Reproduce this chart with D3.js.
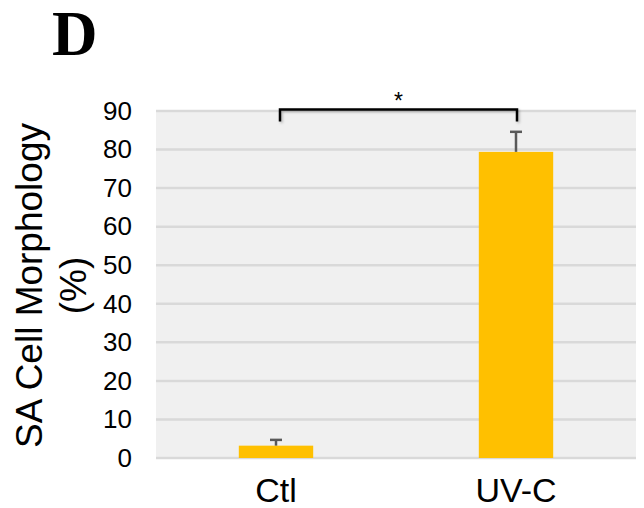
<!DOCTYPE html>
<html>
<head>
<meta charset="utf-8">
<script src="https://cdn.jsdelivr.net/npm/d3@7"></script>
<style>
  html, body { margin: 0; padding: 0; background: #fff; }
  svg { display: block; }
</style>
</head>
<body>
<script>
// Data
const categories = ["Ctl", "UV-C"];
const values = [3.2, 79.4];
const errors = [1.5, 5.2];
const yTicks = [0, 10, 20, 30, 40, 50, 60, 70, 80, 90];
const panelLabel = "D";
const yTitleLines = ["SA Cell Morphology", "(%)"];
const significance = "*";

const W = 644, H = 508;
const plot = { left: 156, right: 636, top: 111, bottom: 458 };

const svg = d3.select("body").append("svg")
  .attr("width", W).attr("height", H);

const defs = svg.append("defs");
const shadow = defs.append("filter").attr("id", "bracketShadow")
  .attr("x", "-10%").attr("y", "-50%").attr("width", "120%").attr("height", "200%");
shadow.append("feDropShadow")
  .attr("dx", 1.5).attr("dy", 1.5).attr("stdDeviation", 1.2)
  .attr("flood-color", "#000").attr("flood-opacity", 0.25);

const x = d3.scaleBand()
  .domain(categories)
  .range([plot.left, plot.right])
  .paddingInner(0.69)
  .paddingOuter(0.345);

const y = d3.scaleLinear()
  .domain([0, 90])
  .range([plot.bottom, plot.top]);

// Plot background
svg.append("rect")
  .attr("x", plot.left).attr("y", y(90))
  .attr("width", plot.right - plot.left)
  .attr("height", y(0) - y(90))
  .attr("fill", "#f0f0f0");

// Gridlines
svg.append("g")
  .selectAll("line")
  .data(yTicks)
  .join("line")
  .attr("x1", plot.left).attr("x2", plot.right)
  .attr("y1", d => y(d)).attr("y2", d => y(d))
  .attr("stroke", "#d9d9d9")
  .attr("stroke-width", 2.5);

// Y axis tick labels
const yAxis = d3.axisLeft(y).tickValues(yTicks).tickSize(0).tickPadding(24);
const gy = svg.append("g")
  .attr("transform", `translate(${plot.left},0)`)
  .call(yAxis);
gy.select(".domain").remove();
gy.selectAll("text")
  .attr("font-family", "Liberation Sans, Arial, sans-serif")
  .attr("font-size", 26)
  .attr("fill", "#000");

// X axis labels
const xAxis = d3.axisBottom(x).tickSize(0).tickPadding(20);
const gx = svg.append("g")
  .attr("transform", `translate(0,${plot.bottom})`)
  .call(xAxis);
gx.select(".domain").remove();
gx.selectAll("text")
  .attr("font-family", "Liberation Sans, Arial, sans-serif")
  .attr("font-size", 34)
  .attr("fill", "#000");

// Bars
svg.append("g")
  .selectAll("rect")
  .data(categories)
  .join("rect")
  .attr("x", d => x(d))
  .attr("y", (d, i) => y(values[i]))
  .attr("width", x.bandwidth())
  .attr("height", (d, i) => y(0) - y(values[i]))
  .attr("fill", "#ffc000");

// Error bars (upper only)
const eg = svg.append("g")
  .attr("stroke", "#595959")
  .attr("stroke-width", 2.5);
categories.forEach((c, i) => {
  const cx = x(c) + x.bandwidth() / 2;
  eg.append("line")
    .attr("x1", cx).attr("x2", cx)
    .attr("y1", y(values[i])).attr("y2", y(values[i] + errors[i]));
  eg.append("line")
    .attr("x1", cx - 6).attr("x2", cx + 6)
    .attr("y1", y(values[i] + errors[i])).attr("y2", y(values[i] + errors[i]));
});

// Significance bracket
const bx1 = x(categories[0]) + x.bandwidth() / 2 + 4;
const bx2 = x(categories[1]) + x.bandwidth() / 2 + 1;
const bTop = y(90) - 1.5;
const bEnd = y(90) + 10.5;
svg.append("path")
  .attr("d", `M${bx1},${bEnd} V${bTop} H${bx2} V${bEnd}`)
  .attr("fill", "none")
  .attr("stroke", "#000")
  .attr("stroke-width", 2.5)
  .attr("filter", "url(#bracketShadow)");
svg.append("text")
  .attr("x", (bx1 + bx2) / 2)
  .attr("y", bTop - 1)
  .attr("text-anchor", "middle")
  .attr("font-family", "Liberation Sans, Arial, sans-serif")
  .attr("font-size", 23)
  .attr("fill", "#000")
  .text(significance);

// Y axis title
const yTitle = svg.append("text")
  .attr("transform", `translate(0,${(plot.top + plot.bottom) / 2 + 1}) rotate(-90)`)
  .attr("text-anchor", "middle")
  .attr("font-family", "Liberation Sans, Arial, sans-serif")
  .attr("font-size", 37)
  .attr("fill", "#000");
yTitle.selectAll("tspan")
  .data(yTitleLines)
  .join("tspan")
  .attr("x", 0)
  .attr("y", (d, i) => 42 + i * 44)
  .text(d => d);

// Panel label
svg.append("text")
  .attr("x", 52)
  .attr("y", 55)
  .attr("font-family", "Liberation Serif, Times New Roman, serif")
  .attr("font-weight", "bold")
  .attr("font-size", 63)
  .attr("fill", "#000")
  .text(panelLabel);
</script>
</body>
</html>
